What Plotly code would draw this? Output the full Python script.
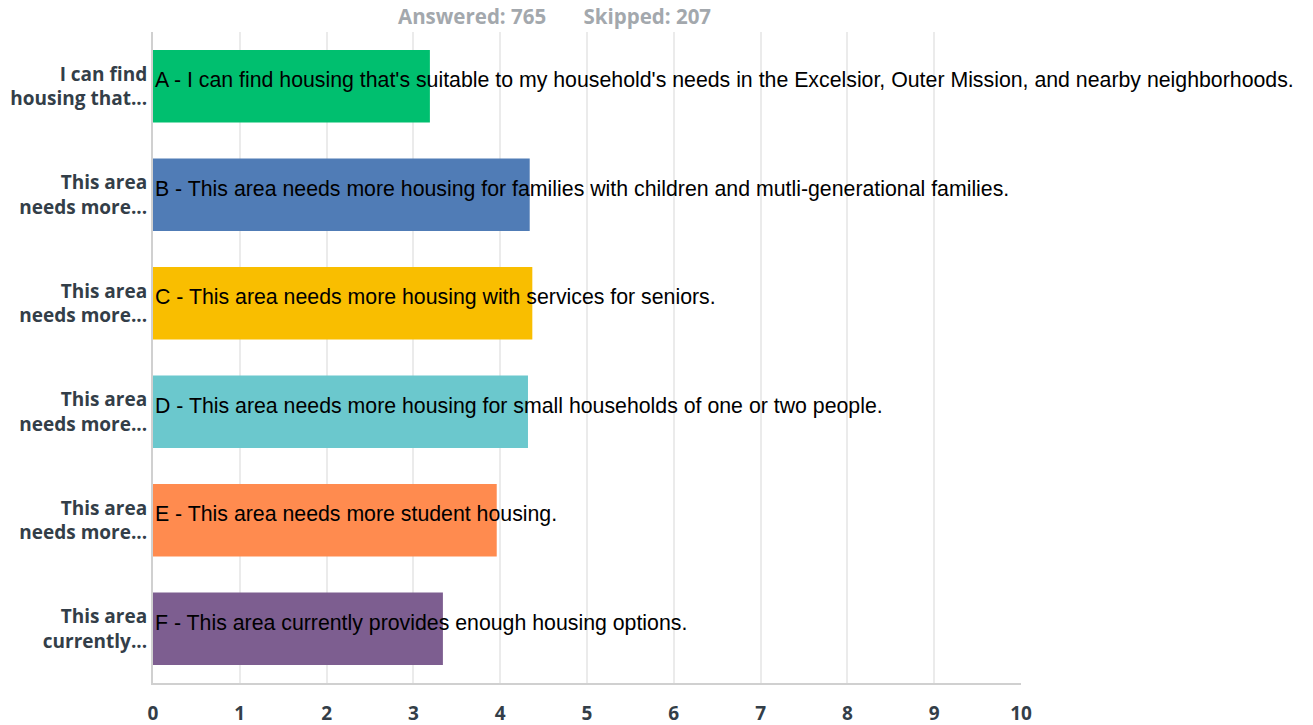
import plotly.graph_objects as go

categories = ["A", "B", "C", "D", "E", "F"]
short_labels = [
    "I can find<br>housing that...",
    "This area<br>needs more...",
    "This area<br>needs more...",
    "This area<br>needs more...",
    "This area<br>needs more...",
    "This area<br>currently...",
]
full_labels = [
    "A - I can find housing that's suitable to my household's needs in the Excelsior, Outer Mission, and nearby neighborhoods.",
    "B - This area needs more housing for families with children and mutli-generational families.",
    "C - This area needs more housing with services for seniors.",
    "D - This area needs more housing for small households of one or two people.",
    "E - This area needs more student housing.",
    "F - This area currently provides enough housing options.",
]
values = [3.19, 4.34, 4.37, 4.32, 3.96, 3.34]
colors = ["#00bf6f", "#507cb6", "#f9be00", "#6bc8cd", "#ff8b4f", "#7d5e90"]
x_ticks = [0, 1, 2, 3, 4, 5, 6, 7, 8, 9, 10]

fig = go.Figure()
fig.add_trace(go.Bar(
    y=categories,
    x=values,
    orientation="h",
    marker=dict(color=colors, line=dict(width=0)),
    width=0.67,
    hoverinfo="skip",
))

for cat, txt in zip(categories, full_labels):
    fig.add_annotation(
        x=0, y=cat, text=txt, showarrow=False,
        xanchor="left", yanchor="middle", xshift=0, yshift=6,
        font=dict(family="Liberation Sans, Arial", size=21.3, color="#000000"),
    )

fig.add_annotation(
    x=0.463, y=1.0, xref="paper", yref="paper", yanchor="middle", yshift=16,
    text="Answered: 765&nbsp;&nbsp;&nbsp;&nbsp;&nbsp;&nbsp;&nbsp;Skipped: 207",
    showarrow=False, borderpad=0,
    font=dict(family="Open Sans, Lato", size=20.5, color="#a3a8ad", weight="bold"),
)

fig.update_layout(
    width=1313, height=725,
    margin=dict(l=153, r=292, t=32, b=42),
    plot_bgcolor="#ffffff",
    paper_bgcolor="#ffffff",
    showlegend=False,
)
fig.update_xaxes(
    range=[0, 10], tickvals=x_ticks, ticktext=[str(v) for v in x_ticks],
    showgrid=True, gridcolor="#ebebeb", gridwidth=2,
    showline=True, linecolor="#d0d0d0", linewidth=2,
    zeroline=False, ticks="", ticklen=0, ticklabelstandoff=12,
    automargin=False,
    tickfont=dict(family="Open Sans, Lato", size=19, color="#333e48", weight="bold"),
)
fig.update_yaxes(
    categoryorder="array", categoryarray=categories[::-1],
    tickvals=categories, ticktext=short_labels,
    range=[-0.5, 5.5],
    showgrid=False, showline=True, linecolor="#d0d0d0", linewidth=2,
    ticks="", ticklen=0, automargin=False,
    tickfont=dict(family="Open Sans, Lato", size=19, color="#333e48", weight="bold"),
)

fig.write_html(
    "out.html",
    config={"displayModeBar": False},
    post_script="document.body.style.margin='0';document.body.style.overflow='hidden';",
)
